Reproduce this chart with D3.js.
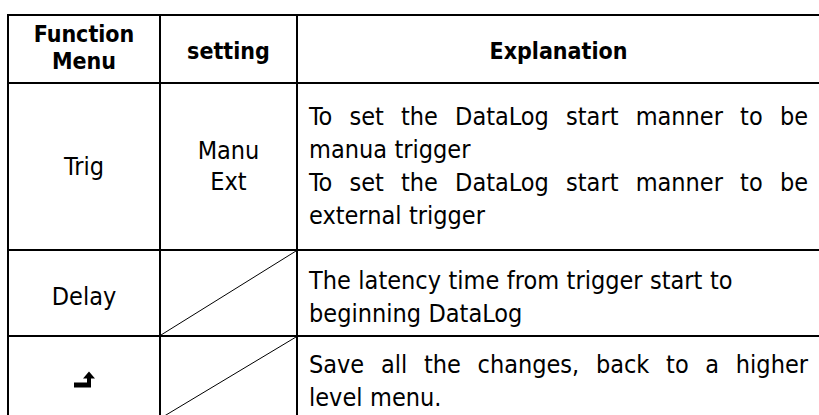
<!DOCTYPE html>
<html><head><meta charset="utf-8">
<script src="https://cdn.jsdelivr.net/npm/d3@7"></script>
<style>
html,body{margin:0;padding:0;background:#fff;}
svg{display:block;}
</style></head>
<body><svg id="c" width="819" height="415"></svg>
<script>
// ---- data ----
const headers = [["Function","Menu"],["setting"],["Explanation"]];
const functionMenu = ["Trig","Delay","back"];
const settings = [["Manu","Ext"], null, null];
// each row: list of paragraphs; each paragraph: list of lines
const explanations = [
  [["To set the DataLog start manner to be","manua trigger"],
   ["To set the DataLog start manner to be","external trigger"]],
  [["The latency time from trigger start to","beginning DataLog"]],
  [["Save all the changes, back to a higher","level menu."]]
];
const justifyRow = [true, false, true];

// ---- layout ----
const colEdges = [8,160,297,820];
const rowEdges = [15,83,250,336,419];
const rowShift = [-1, 3, 3];
const FONT = "'DejaVu Sans Condensed','DejaVu Sans',sans-serif";
const fs = 25, lh = 33, padL = 12, padR = 11;

const svg = d3.select("#c");
const g = svg.append("g");

// grid lines
const hl = g.append("g").attr("stroke","#000").attr("stroke-width",2);
rowEdges.forEach(y=>hl.append("line").attr("x1",colEdges[0]-1).attr("x2",colEdges[3]+1).attr("y1",y).attr("y2",y));
colEdges.forEach(x=>hl.append("line").attr("x1",x).attr("x2",x).attr("y1",rowEdges[0]-1).attr("y2",rowEdges[4]+1));

// diagonals for empty setting cells
settings.forEach((s,i)=>{
  if(s) return;
  g.append("line").attr("x1",colEdges[1]+1).attr("y1",rowEdges[i+2]-1)
   .attr("x2",colEdges[2]-1).attr("y2",rowEdges[i+1]+1)
   .attr("stroke","#000").attr("stroke-width",1);
});

// header
headers.forEach((lines,c)=>{
  const cx=(colEdges[c]+colEdges[c+1])/2;
  const hlh=27;
  lines.forEach((t,k)=>{
    const y = lines.length>1 ? 47+(k-0.5)*hlh : 51;
    g.append("text").attr("x",cx).attr("y",y)
     .attr("dy","0.36em").attr("text-anchor","middle")
     .style("font-family",FONT).style("font-weight","bold").style("font-size","23px").text(t);
  });
});

// body
functionMenu.forEach((f,r)=>{
  const y0=rowEdges[r+1], y1=rowEdges[r+2];
  const cy = (y0+y1)/2 + rowShift[r];
  const cx=(colEdges[0]+colEdges[1])/2;
  if(f==="back"){
    // return-arrow icon
    const p=d3.path();
    p.moveTo(cx-10,cy+2); p.lineTo(cx+3,cy+2); p.lineTo(cx+3,cy-2);
    p.lineTo(cx-1,cy-2); p.lineTo(cx+5,cy-9); p.lineTo(cx+11,cy-2);
    p.lineTo(cx+7,cy-2); p.lineTo(cx+7,cy+7); p.lineTo(cx-10,cy+7); p.closePath();
    g.append("path").attr("d",p.toString()).attr("fill","#000");
  } else {
    g.append("text").attr("x",cx).attr("y",cy).attr("dy","0.36em").attr("text-anchor","middle")
     .style("font-family",FONT).style("font-size",fs+"px").text(f);
  }
  const s=settings[r];
  if(s){
    const sx=(colEdges[1]+colEdges[2])/2;
    s.forEach((t,k)=>{
      g.append("text").attr("x",sx).attr("y",cy+(k-(s.length-1)/2)*31).attr("dy","0.36em")
       .attr("text-anchor","middle").style("font-family",FONT).style("font-size",fs+"px").text(t);
    });
  }
  // explanation lines
  const lines=[]; explanations[r].forEach(par=>par.forEach((ln,k)=>lines.push({t:ln,last:k===par.length-1})));
  const x0=colEdges[2]+padL, x1=819-padR;
  const top = cy - (lines.length-1)*lh/2;
  lines.forEach((ln,k)=>{
    const y=top+k*lh;
    const words=ln.t.split(" ");
    const grp=g.append("g");
    const nodes=words.map(w=>grp.append("text").attr("y",y).attr("dy","0.36em")
      .style("font-family",FONT).style("font-size",fs+"px").text(w));
    const widths=nodes.map(n=>n.node().getComputedTextLength());
    const total=d3.sum(widths);
    const space=fs*0.3;
    let gap=space;
    if(justifyRow[r] && !ln.last && words.length>1) gap=(x1-x0-total)/(words.length-1);
    let x=x0;
    nodes.forEach((n,i)=>{n.attr("x",x); x+=widths[i]+gap;});
  });
});
</script></body></html>
